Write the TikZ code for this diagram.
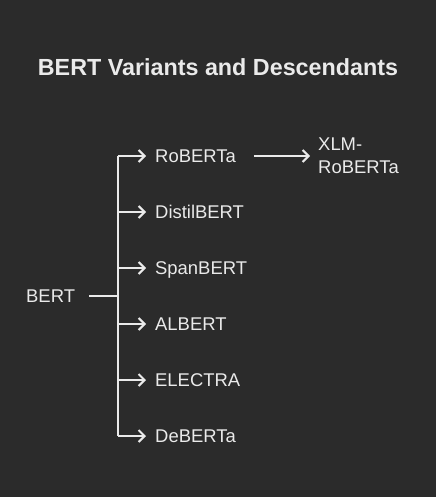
\documentclass[tikz,border=0pt]{standalone}
\usepackage{fontspec}
\setmainfont{Liberation Sans}
\usetikzlibrary{arrows.meta}
\definecolor{bg}{HTML}{2B2B2B}
\definecolor{fg}{HTML}{EAEAEA}
\begin{document}
\begin{tikzpicture}[x=1bp,y=-1bp,
  lbl/.style={anchor=west,inner sep=0pt,text=fg,font=\fontsize{18.5}{23}\selectfont},
  one/.style={lbl,text height=13bp,text depth=0bp},
  conn/.style={draw=fg,line width=2bp},
  arr/.style={conn,-{Straight Barb[length=6bp,width=12bp,line width=2bp]}}]
\fill[bg] (0,0) rectangle (436,497);
\useasboundingbox (0,0) rectangle (436,497);
\node[text=fg,font=\bfseries\fontsize{23.4}{28}\selectfont] (title) at (218,67) {BERT Variants and Descendants};
\node[one] (bert) at (26,296) {BERT};
\coordinate (j) at (118,296);
\coordinate (top) at (118,156);
\coordinate (bot) at (118,436);
\node[one] (roberta) at (155,156) {RoBERTa};
\node[one] (distil) at (155,212) {DistilBERT};
\node[one] (span) at (155,268) {SpanBERT};
\node[one] (albert) at (155,324) {ALBERT};
\node[one] (electra) at (155,380) {ELECTRA};
\node[one] (deberta) at (155,436) {DeBERTa};
\node[lbl,align=left] (xlm) at (318,156) {XLM-\\RoBERTa};
\coordinate (bs) at (89,296);
\draw[conn] (bs) -- (j);
\draw[conn] (top) -- (bot);
\foreach \n in {roberta,distil,span,albert,electra,deberta}{
  \draw[arr] (top |- \n.west) -- ([xshift=-9bp]\n.west);
}
\draw[arr] ([xshift=18bp]roberta.east) -- ([xshift=-8bp]xlm.west);
\end{tikzpicture}
\end{document}
